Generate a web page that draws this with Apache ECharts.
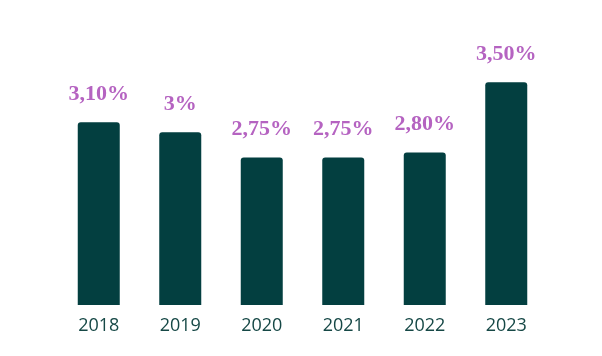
<!DOCTYPE html>
<html>
<head>
<meta charset="utf-8">
<script src="https://cdn.jsdelivr.net/npm/echarts@6/dist/echarts.min.js"></script>
<style>html,body{margin:0;padding:0;background:#fff;}#c{width:602px;height:356px;}</style>
</head>
<body>
<div id="c"></div>
<script>
const categories = ['2018', '2019', '2020', '2021', '2022', '2023'];
const values = [3.10, 3.00, 2.75, 2.75, 2.80, 3.50];
const valueLabels = ['3,10%', '3%', '2,75%', '2,75%', '2,80%', '3,50%'];

const chart = echarts.init(document.getElementById('c'), null, {renderer: 'canvas'});
chart.setOption({
  backgroundColor: '#ffffff',
  animation: false,
  grid: {left: 58, right: 55, top: 32, bottom: 51},
  xAxis: {
    type: 'category',
    data: categories,
    axisLine: {show: false},
    axisTick: {show: false},
    axisLabel: {color: '#164846', fontFamily: 'Open Sans', fontWeight: 500, fontSize: 18, margin: 12}
  },
  yAxis: {
    type: 'value',
    min: 1.28,
    max: 4.0,
    show: false,
    splitLine: {show: false}
  },
  series: [{
    type: 'bar',
    data: values,
    barWidth: 42,
    itemStyle: {color: '#033f40', borderRadius: [3, 3, 0, 0]},
    label: {
      show: true,
      position: 'top',
      distance: 17,
      color: '#b563c1',
      fontFamily: 'Liberation Serif',
      fontWeight: 'bold',
      fontSize: 22,
      formatter: p => valueLabels[p.dataIndex]
    }
  }]
});
</script>
</body>
</html>
